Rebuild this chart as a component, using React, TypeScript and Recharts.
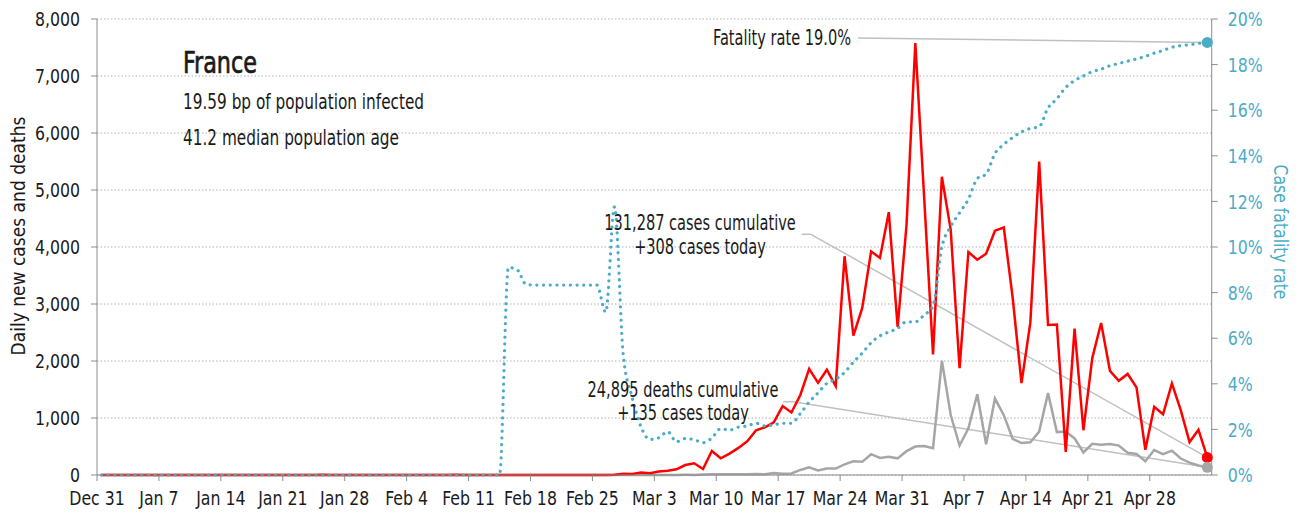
import React from 'react';
import { ComposedChart, Line, XAxis, YAxis, CartesianGrid, ReferenceLine, ReferenceDot } from 'recharts';

const tickLabels = ['Dec 31', 'Jan 7', 'Jan 14', 'Jan 21', 'Jan 28', 'Feb 4', 'Feb 11', 'Feb 18', 'Feb 25', 'Mar 3', 'Mar 10', 'Mar 17', 'Mar 24', 'Mar 31', 'Apr 7', 'Apr 14', 'Apr 21', 'Apr 28'];

// daily new cases, one value per day starting Dec 31
const cases = [
  0, 0, 0, 0, 0, 0, 0, 0, 0, 0,
  0, 0, 0, 0, 0, 0, 0, 0, 0, 0,
  0, 0, 0, 0, 0, 3, 0, 0, 0, 1,
  0, 1, 1, 0, 0, 0, 0, 0, 0, 0,
  5, 0, 0, 1, 0, 0, 0, 1, 0, 0,
  0, 0, 0, 0, 0, 0, 0, 2, 4, 20,
  19, 43, 30, 61, 73, 100, 175, 205, 105, 421,
  293, 375, 475, 590, 785, 838, 924, 1210, 1097, 1404,
  1861, 1617, 1847, 1559, 3838, 2446, 2931, 3922, 3809, 4611,
  2599, 4376, 7578, 4861, 2116, 5233, 4300, 1873, 3912, 3777,
  3881, 4286, 4342, 3114, 1613, 2673, 5497, 2633, 2641, 405,
  2569, 785, 2051, 2667, 1827, 1653, 1773, 1537, 443, 1195,
  1065, 1607, 1139, 578, 794, 308,
];

// daily new deaths
const deaths = [
  0, 0, 0, 0, 0, 0, 0, 0, 0, 0,
  0, 0, 0, 0, 0, 0, 0, 0, 0, 0,
  0, 0, 0, 0, 0, 0, 0, 0, 0, 0,
  0, 0, 0, 0, 0, 0, 0, 0, 0, 0,
  0, 0, 0, 0, 0, 0, 1, 0, 0, 0,
  0, 0, 0, 0, 0, 0, 0, 0, 1, 0,
  0, 0, 1, 0, 1, 2, 3, 2, 8, 11,
  11, 15, 15, 13, 18, 12, 36, 21, 27, 89,
  135, 80, 112, 112, 186, 240, 231, 365, 299, 319,
  292, 418, 499, 509, 471, 2004, 1053, 518, 820, 1417,
  541, 1341, 1050, 635, 561, 574, 762, 1438, 753, 761,
  642, 395, 547, 531, 544, 516, 389, 369, 242, 437,
  367, 427, 289, 218, 166, 135,
];

// case fatality rate, percent
const fatalityRate = [
  0, 0, 0, 0, 0, 0, 0, 0, 0, 0,
  0, 0, 0, 0, 0, 0, 0, 0, 0, 0,
  0, 0, 0, 0, 0, 0, 0, 0, 0, 0,
  0, 0, 0, 0, 0, 0, 0, 0, 0, 0,
  0, 0, 0, 0, 0, 0, 9.1, 9.0, 8.36, 8.33,
  8.33, 8.33, 8.33, 8.33, 8.33, 8.33, 8.33, 7.14, 11.76, 5.2,
  3.4, 2.1, 1.56, 1.63, 1.9, 1.46, 1.6, 1.55, 1.42, 1.62,
  2.03, 1.97, 2.1, 2.15, 2.27, 2.15, 2.2, 2.27, 2.27, 2.7,
  3.2, 3.6, 4.02, 4.2, 4.5, 4.95, 5.35, 5.8, 6.1, 6.27,
  6.43, 6.72, 6.72, 7.02, 7.4, 10.0, 10.9, 11.5, 12.1, 13.0,
  13.2, 14.1, 14.5, 14.8, 15.05, 15.2, 15.28, 16.1, 16.5, 17.0,
  17.3, 17.5, 17.69, 17.8, 17.95, 18.05, 18.15, 18.25, 18.36, 18.5,
  18.62, 18.76, 18.83, 18.87, 18.93, 18.97,
];

const leftTicks = [0, 1000, 2000, 3000, 4000, 5000, 6000, 7000, 8000];
const rightTicks = [0, 2, 4, 6, 8, 10, 12, 14, 16, 18, 20];

const title = 'France';
const subtitle1 = '19.59 bp of population infected';
const subtitle2 = '41.2 median population age';
const casesNote = '131,287 cases cumulative';
const deathsNote = '24,895 deaths cumulative';

const data = cases.map((c, i) => ({ x: i + 0.5, cases: c, deaths: deaths[i], rate: fatalityRate[i] }));
const last = data.length - 1;
const lastX = data[last].x;

const FONT = "'DejaVu Sans Condensed', 'DejaVu Sans', sans-serif";
const TEAL = '#4bacc6';
const LEADER = '#c0c0c0';
const AXIS = '#8c8c8c';
const INK = '#1a1a1a';

type STextProps = {
  x: number; y: number; sx: number; size: number; anchor?: string; fill?: string;
  rotate?: number; dy?: string; weight?: string; strokeW?: number; children: React.ReactNode;
};

function SText({ x, y, sx, size, anchor = 'start', fill = INK, rotate = 0, dy, weight, strokeW, children }: STextProps) {
  return (
    <text
      transform={`translate(${x} ${y}) rotate(${rotate}) scale(${sx} 1)`}
      textAnchor={anchor}
      fontFamily={FONT}
      fontSize={size}
      fill={fill}
      dy={dy}
      fontWeight={weight}
      stroke={strokeW ? fill : undefined}
      strokeWidth={strokeW}
    >
      {children}
    </text>
  );
}

const XTick = (props: any) => {
  const { x, y, payload } = props;
  return <SText x={x} y={y} sx={0.875} size={20} anchor="middle" dy="0.71em">{tickLabels[Math.round(payload.value / 7)]}</SText>;
};

const LeftTick = (props: any) => {
  const { x, y, payload } = props;
  return <SText x={x} y={y} sx={0.875} size={20} anchor="end" dy="0.355em">{Number(payload.value).toLocaleString('en-US')}</SText>;
};

const RightTick = (props: any) => {
  const { x, y, payload } = props;
  return <SText x={x} y={y} sx={0.875} size={20} anchor="start" dy="0.355em" fill={TEAL}>{`${payload.value}%`}</SText>;
};

export default function App() {
  return (
    <div style={{ position: 'absolute', left: 0, top: 0, width: 1307, height: 514 }}>
      <ComposedChart width={1307} height={514} data={data} margin={{ top: 19, right: 0, bottom: 0, left: 0 }}>
        <CartesianGrid yAxisId="left" vertical={false} stroke="#b0b0b0" strokeDasharray="1.5 2" />
        <XAxis
          dataKey="x"
          type="number"
          domain={[0, 126]}
          ticks={tickLabels.map((_, i) => i * 7)}
          interval={0}
          height={39}
          tickSize={6}
          tickMargin={10}
          stroke={AXIS}
          tick={<XTick />}
        />
        <YAxis
          yAxisId="left"
          domain={[0, 8000]}
          ticks={leftTicks}
          width={97}
          tickSize={6}
          tickMargin={11}
          stroke={AXIS}
          tick={<LeftTick />}
        />
        <YAxis
          yAxisId="right"
          orientation="right"
          domain={[0, 20]}
          ticks={rightTicks}
          width={95.3}
          tickSize={6}
          tickMargin={10}
          stroke={AXIS}
          tick={<RightTick />}
        />
        <ReferenceLine yAxisId="right" segment={[{ x: 86.0, y: 19.17 }, { x: lastX, y: fatalityRate[last] }]} stroke={LEADER} strokeWidth={1.5} ifOverflow="visible" />
        <ReferenceLine yAxisId="left" segment={[{ x: 79.65, y: 4223 }, { x: 80.7, y: 4223 }]} stroke={LEADER} strokeWidth={1.5} ifOverflow="visible" />
        <ReferenceLine yAxisId="left" segment={[{ x: 80.7, y: 4223 }, { x: lastX, y: cases[last] }]} stroke={LEADER} strokeWidth={1.5} ifOverflow="visible" />
        <ReferenceLine yAxisId="left" segment={[{ x: 77.58, y: 1286 }, { x: 78.7, y: 1286 }]} stroke={LEADER} strokeWidth={1.5} ifOverflow="visible" />
        <ReferenceLine yAxisId="left" segment={[{ x: 78.7, y: 1286 }, { x: lastX, y: deaths[last] }]} stroke={LEADER} strokeWidth={1.5} ifOverflow="visible" />
        <Line yAxisId="left" type="linear" dataKey="deaths" stroke="#a6a6a6" strokeWidth={2.5} dot={false} isAnimationActive={false} />
        <Line yAxisId="left" type="linear" dataKey="cases" stroke="#ff0000" strokeWidth={2.5} dot={false} isAnimationActive={false} />
        <Line
          yAxisId="right"
          type="monotone"
          dataKey="rate"
          stroke={TEAL}
          strokeWidth={3.2}
          strokeDasharray="0.1 6.6"
          strokeLinecap="round"
          dot={false}
          isAnimationActive={false}
        />
        <ReferenceDot yAxisId="left" x={lastX} y={cases[last]} r={5.5} fill="#ff0000" stroke="none" ifOverflow="visible" />
        <ReferenceDot yAxisId="left" x={lastX} y={deaths[last]} r={5.5} fill="#a6a6a6" stroke="none" ifOverflow="visible" />
        <ReferenceDot yAxisId="right" x={lastX} y={fatalityRate[last]} r={5.5} fill={TEAL} stroke="none" ifOverflow="visible" />
      </ComposedChart>
      <svg width={1307} height={514} style={{ position: 'absolute', left: 0, top: 0, pointerEvents: 'none' }}>
        <SText x={183} y={73} sx={0.8} size={31} strokeW={0.7}>{title}</SText>
        <SText x={183} y={109} sx={0.83} size={20.5}>{subtitle1}</SText>
        <SText x={183} y={145} sx={0.83} size={20.5}>{subtitle2}</SText>
        <SText x={851} y={45} sx={0.79} size={20.5} anchor="end">{`Fatality rate ${fatalityRate[last].toFixed(1)}%`}</SText>
        <SText x={700} y={230} sx={0.79} size={20.5} anchor="middle">{casesNote}</SText>
        <SText x={700} y={254} sx={0.79} size={20.5} anchor="middle">{`+${cases[last]} cases today`}</SText>
        <SText x={683} y={397} sx={0.79} size={20.5} anchor="middle">{deathsNote}</SText>
        <SText x={683} y={420} sx={0.79} size={20.5} anchor="middle">{`+${deaths[last]} cases today`}</SText>
        <SText x={18} y={236} sx={0.95} size={20} anchor="middle" rotate={-90} dy="0.35em">Daily new cases and deaths</SText>
        <SText x={1281} y={232} sx={0.87} size={20} anchor="middle" rotate={90} dy="0.35em" fill={TEAL}>Case fatality rate</SText>
      </svg>
    </div>
  );
}
